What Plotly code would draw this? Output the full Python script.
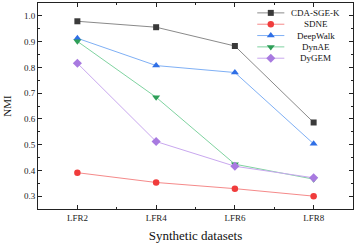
import plotly.graph_objects as go

categories = ["LFR2", "LFR4", "LFR6", "LFR8"]
x_pos = [1, 2, 3, 4]
series_names = ["CDA-SGE-K", "SDNE", "DeepWalk", "DynAE", "DyGEM"]
cda = [0.979, 0.956, 0.883, 0.586]
sdne = [0.391, 0.353, 0.329, 0.300]
deepwalk = [0.913, 0.807, 0.780, 0.503]
dynae = [0.901, 0.684, 0.424, 0.366]
dygem = [0.816, 0.512, 0.416, 0.371]

values = [cda, sdne, deepwalk, dynae, dygem]
line_colors = ["#8a8a8a", "#f58a8a", "#7fb0f5", "#7fd3a0", "#c9a8ef"]
marker_colors = ["#3a3a3a", "#f03c3c", "#2f6fe6", "#2e9e58", "#a87ae0"]
symbols = ["square", "circle", "triangle-up", "triangle-down", "diamond"]
marker_sizes = [6, 6.5, 7, 7, 7]

FONT = "Liberation Serif"
fig = go.Figure()
for name, v, lc, mc, s, ms in zip(series_names, values, line_colors, marker_colors, symbols, marker_sizes):
    fig.add_trace(go.Scatter(
        x=x_pos, y=v, name=name, mode="lines+markers",
        line=dict(color=lc, width=1),
        marker=dict(symbol=s, color=mc, size=ms),
        showlegend=False,
    ))

# compact legend drawn on an overlay axis (0..1 coordinates)
leg_top, leg_step = 0.952, 0.055
for i, (name, lc, mc, s, ms) in enumerate(zip(series_names, line_colors, marker_colors, symbols, marker_sizes)):
    yy = leg_top - i * leg_step
    fig.add_trace(go.Scatter(
        x=[0.696, 0.782], y=[yy, yy], mode="lines", line=dict(color=lc, width=1),
        xaxis="x2", yaxis="y2", showlegend=False, hoverinfo="skip",
    ))
    fig.add_trace(go.Scatter(
        x=[0.739], y=[yy], mode="markers", marker=dict(symbol=s, color=mc, size=ms),
        xaxis="x2", yaxis="y2", showlegend=False, hoverinfo="skip",
    ))
    fig.add_annotation(
        x=0.882, y=yy, xref="x2", yref="y2", text=name, showarrow=False,
        xanchor="center", yanchor="middle",
        font=dict(family=FONT, size=9, color="#111"),
    )

axis_common = dict(
    showline=True, linecolor="#222", linewidth=1, mirror="ticks",
    ticks="inside", ticklen=4, tickcolor="#222", showgrid=False, zeroline=False,
    tickfont=dict(family=FONT, size=9, color="#222"), automargin=False,
)
fig.update_xaxes(
    range=[0.5, 4.5], tickvals=x_pos, ticktext=categories,
    title=dict(text="Synthetic datasets", font=dict(family=FONT, size=13, color="#111"), standoff=10),
    minor=dict(ticks="inside", dtick=0.5, tick0=0.5, ticklen=2, tickcolor="#222"),
    **axis_common,
)
fig.update_yaxes(
    range=[0.25, 1.05], dtick=0.1, tick0=0.3, tickformat=".1f",
    title=dict(text="NMI", font=dict(family=FONT, size=11, color="#111"), standoff=10),
    minor=dict(ticks="inside", dtick=0.05, ticklen=2, tickcolor="#222"),
    **axis_common,
)
fig.update_layout(
    width=355, height=243,
    margin=dict(l=38, r=2, t=3, b=34),
    plot_bgcolor="white", paper_bgcolor="white",
    xaxis2=dict(overlaying="x", range=[0, 1], visible=False, fixedrange=True),
    yaxis2=dict(overlaying="y", range=[0, 1], visible=False, fixedrange=True),
    showlegend=False,
)
fig.write_html(
    "out.html",
    config={"displayModeBar": False},
    post_script="document.body.style.margin='0';document.body.style.overflow='hidden';",
)
